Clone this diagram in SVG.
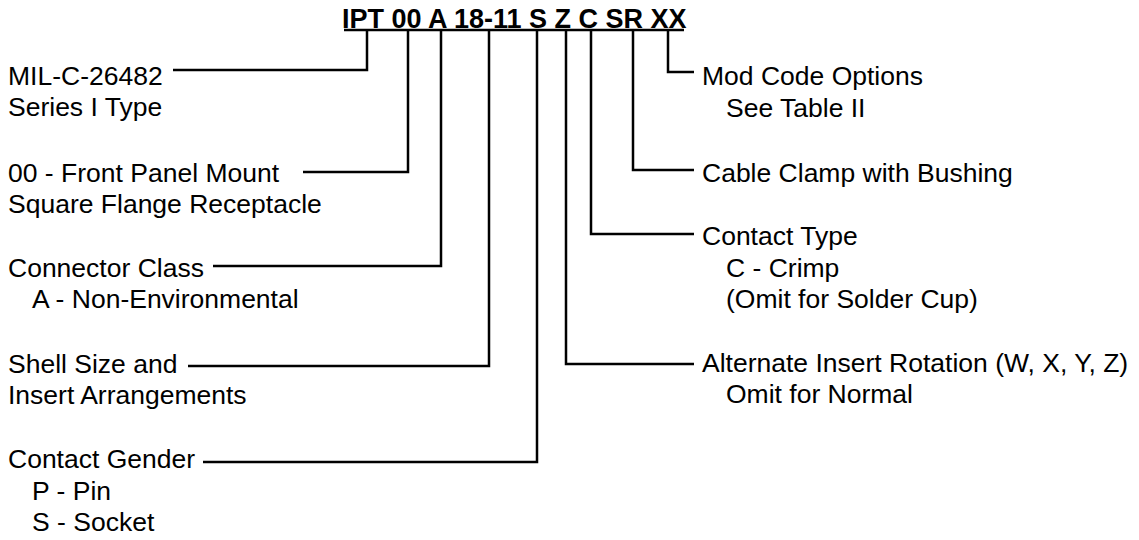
<svg xmlns="http://www.w3.org/2000/svg" width="1139" height="540" viewBox="0 0 1139 540">
<style>
text{font-family:"Liberation Sans",Arial,sans-serif;font-size:26.5px;fill:#000}
.t{font-weight:bold;font-size:27px}
.c{fill:none;stroke:#000;stroke-width:2.5}
</style>
<rect width="1139" height="540" fill="#fff"/>
<g id="title">
<text class="t" x="342" y="27.5">IPT 00 A 18-11 S Z C SR XX</text>
<line class="c" x1="344" y1="30" x2="684" y2="30"/>
</g>
<g id="connectors">
<polyline class="c" points="367,30 367,70 173,70"/>
<polyline class="c" points="408,30 408,172 303,172"/>
<polyline class="c" points="441,30 441,266 213,266"/>
<polyline class="c" points="489,30 489,366 188,366"/>
<polyline class="c" points="537,30 537,462 203,462"/>
<polyline class="c" points="566,30 566,364 694,364"/>
<polyline class="c" points="591,30 591,234 694,234"/>
<polyline class="c" points="633,30 633,170 694,170"/>
<polyline class="c" points="668,30 668,72 694,72"/>
</g>
<g id="n-series"><text x="8" y="85">MIL-C-26482</text><text x="8" y="116">Series I Type</text></g>
<g id="n-mount"><text x="8" y="181.5">00 - Front Panel Mount</text><text x="8" y="212.5">Square Flange Receptacle</text></g>
<g id="n-class"><text x="8" y="276.5">Connector Class</text><text x="32" y="307.5">A - Non-Environmental</text></g>
<g id="n-shell"><text x="8" y="372.5">Shell Size and</text><text x="8" y="403.5">Insert Arrangements</text></g>
<g id="n-gender"><text x="8" y="468">Contact Gender</text><text x="32" y="499.5">P - Pin</text><text x="32" y="531">S - Socket</text></g>
<g id="n-mod"><text x="702" y="85">Mod Code Options</text><text x="726" y="116.5">See Table II</text></g>
<g id="n-clamp"><text x="702" y="181.5">Cable Clamp with Bushing</text></g>
<g id="n-ctype"><text x="702" y="245">Contact Type</text><text x="726" y="276.5">C - Crimp</text><text x="726" y="308">(Omit for Solder Cup)</text></g>
<g id="n-rot"><text x="702" y="371.5">Alternate Insert Rotation (W, X, Y, Z)</text><text x="726" y="403">Omit for Normal</text></g>
</svg>
